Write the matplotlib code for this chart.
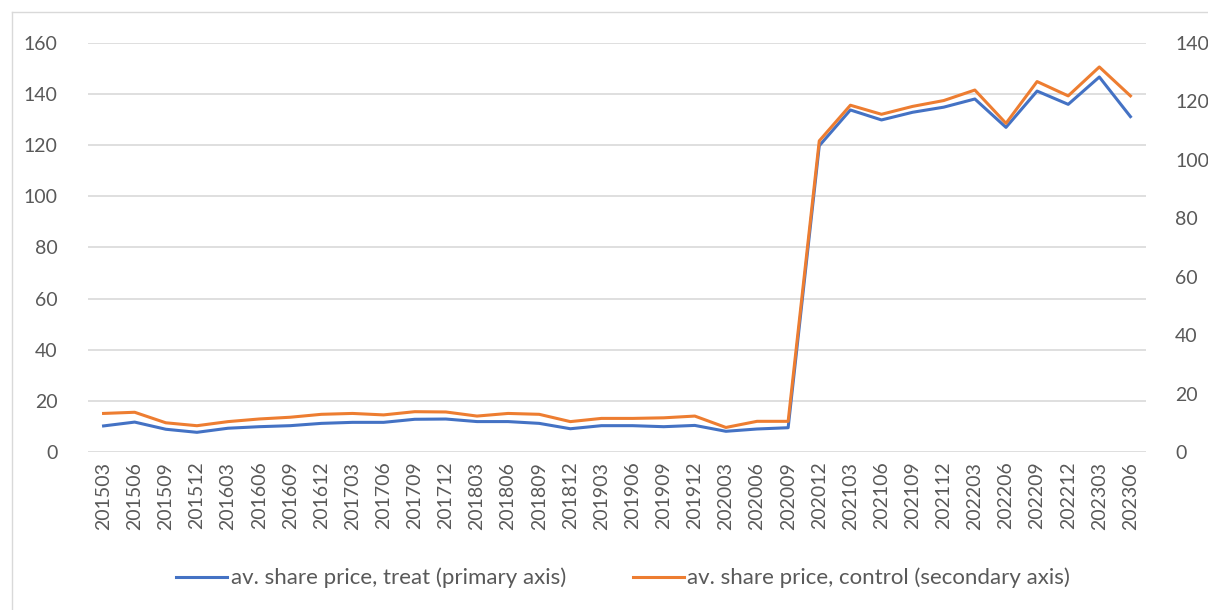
import numpy as np
import matplotlib.pyplot as plt
from matplotlib.lines import Line2D

plt.rcParams['font.family'] = ['Lato', 'DejaVu Sans']

# quarterly periods
periods = ["201503", "201506", "201509", "201512",
           "201603", "201606", "201609", "201612",
           "201703", "201706", "201709", "201712",
           "201803", "201806", "201809", "201812",
           "201903", "201906", "201909", "201912",
           "202003", "202006", "202009", "202012",
           "202103", "202106", "202109", "202112",
           "202203", "202206", "202209", "202212",
           "202303", "202306"]

# av. share price, treat (primary axis)
treat = [10.2, 11.7, 8.9, 7.7, 9.3, 9.9, 10.3, 11.2, 11.6, 11.6, 12.8, 12.9,
         11.9, 11.9, 11.2, 9.1, 10.3, 10.3, 9.9, 10.4, 8.1, 9.0, 9.5, 119.8,
         133.8, 129.9, 132.9, 134.9, 138.1, 127.0, 141.2, 136.0, 146.7, 131.2]

# av. share price, control (secondary axis)
control = [13.2, 13.6, 10.0, 9.0, 10.4, 11.3, 11.9, 12.9, 13.2, 12.7, 13.8, 13.7,
           12.3, 13.2, 12.9, 10.4, 11.5, 11.5, 11.7, 12.3, 8.4, 10.5, 10.5, 106.5,
           118.7, 115.6, 118.3, 120.3, 123.9, 112.5, 126.8, 121.9, 131.8, 121.9]

blue = "#4472C4"
orange = "#ED7D31"
grid_c = "#D9D9D9"
text_c = "#595959"

W, H = 1208, 610
fig = plt.figure(figsize=(W / 100, H / 100), dpi=100)
ax = fig.add_axes([88 / W, 1 - 452 / H, (1146 - 88) / W, (452 - 43) / H])
ax2 = ax.twinx()

x = np.arange(len(periods))
l1, = ax.plot(x, treat, color=blue, lw=2.2, solid_joinstyle="round",
              label="av. share price, treat (primary axis)")
l2, = ax2.plot(x, control, color=orange, lw=2.2, solid_joinstyle="round",
               label="av. share price, control (secondary axis)")

ax.set_xlim(-0.5, len(periods) - 0.5)
ax.set_ylim(0, 160)
ax2.set_ylim(0, 140)
ax.set_yticks(np.arange(0, 161, 20))
ax2.set_yticks(np.arange(0, 141, 20))
ax.yaxis.grid(True, color=grid_c, lw=1.2)
ax.set_axisbelow(True)
ax.set_xticks(x)
ax.set_xticklabels(periods, rotation=90)

for a in (ax, ax2):
    for s in a.spines.values():
        s.set_visible(False)
    a.tick_params(length=0, labelsize=14, colors=text_c)
ax.tick_params(axis="y", pad=22)
ax2.tick_params(axis="y", pad=21)
ax.tick_params(axis="x", pad=7)

fig.legend(handles=[l1, l2], loc="center", bbox_to_anchor=(623 / W, 1 - 578 / H),
           ncol=2, frameon=False, fontsize=16, labelcolor=text_c,
           handlelength=2.3, handletextpad=0.15, columnspacing=3.0)

# chart area border (left and top edges visible)
fig.add_artist(Line2D([12 / W, 12 / W], [0, 1 - 12 / H], transform=fig.transFigure,
                      color=grid_c, lw=1))
fig.add_artist(Line2D([12 / W, 1], [1 - 12 / H, 1 - 12 / H], transform=fig.transFigure,
                      color=grid_c, lw=1))

fig.savefig("out.png", dpi=100)
